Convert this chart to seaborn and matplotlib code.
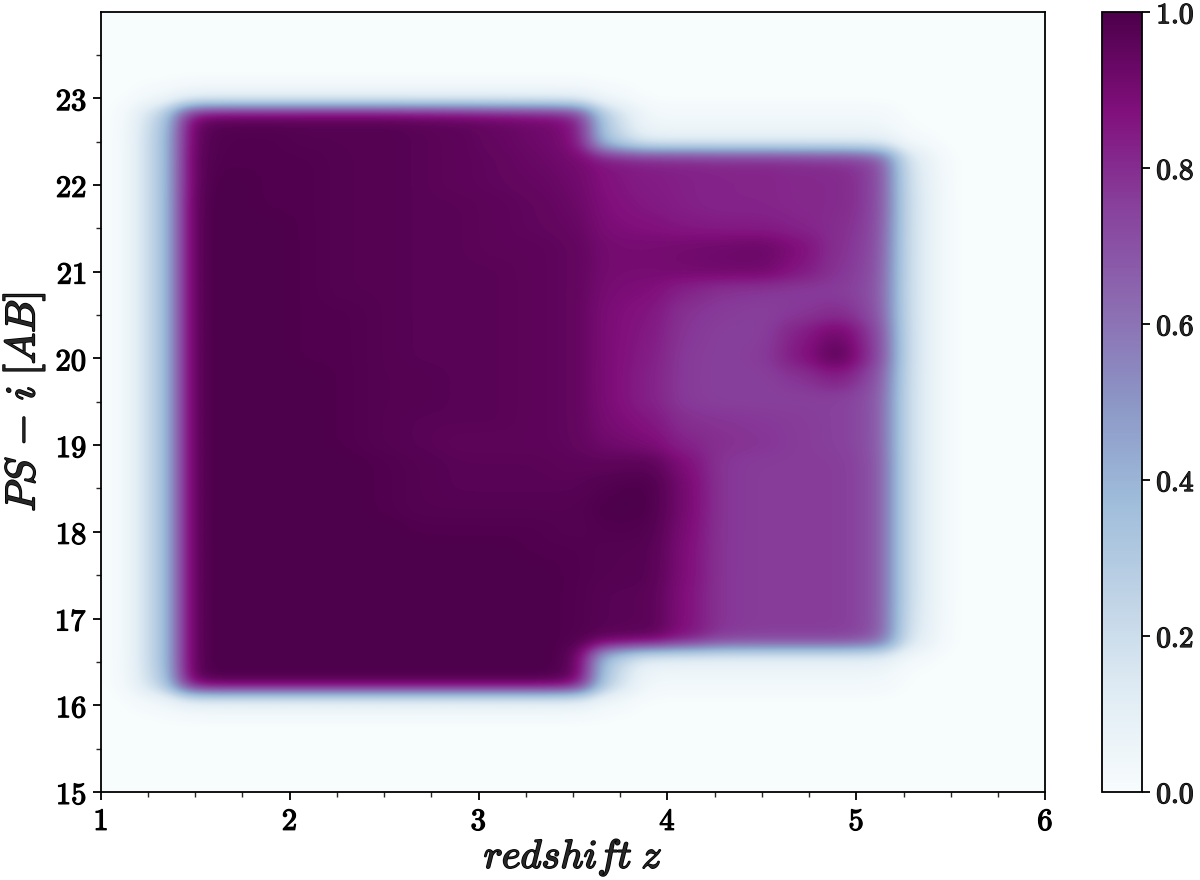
import numpy as np
import matplotlib
matplotlib.use("Agg")
import matplotlib.pyplot as plt
import matplotlib.patheffects as pe
from matplotlib.ticker import MultipleLocator, FuncFormatter
import seaborn as sns

# ---------------- data ----------------
# completeness (percent) on redshift bins of width 0.2 (z = 1.2 ... 5.4)
# and magnitude bins of width 0.25 (PS-i = 15.9 ... 23.15), faintest row first
z_lo, z_step = 1.2, 0.2
mag_lo, mag_step = 15.9, 0.25
completeness_pct = [
    # z: 1.3 | 1.5 1.7 1.9 2.1 2.3 2.5 2.7 2.9 3.1 3.3 3.5 | 3.7 3.9 4.1 4.3 4.5 4.7 4.9 5.1 | 5.3
    [2, 6, 6, 6, 6, 6, 6, 6, 6, 6, 6, 6, 2, 0, 0, 0, 0, 0, 0, 0, 0],                     # 23.03
    [22, 97, 98, 98, 98, 98, 98, 97, 96, 94, 92, 89, 22, 3, 3, 3, 3, 3, 3, 3, 0],        # 22.78
    [25, 98, 99, 99, 98, 98, 98, 97, 96, 94, 92, 90, 25, 8, 8, 8, 8, 8, 8, 8, 1],        # 22.53
    [25, 99, 99, 99, 99, 98, 98, 97, 96, 95, 93, 91, 86, 84, 83, 82, 82, 81, 80, 76, 12],  # 22.28
    [25, 99, 100, 99, 99, 98, 98, 97, 96, 95, 94, 92, 86, 84, 83, 82, 82, 81, 81, 76, 14],  # 22.03
    [25, 100, 100, 99, 99, 98, 98, 97, 97, 96, 95, 93, 87, 85, 83, 82, 82, 81, 81, 76, 15],  # 21.78
    [25, 100, 100, 100, 99, 98, 98, 97, 97, 96, 95, 94, 88, 87, 85, 84, 84, 82, 80, 75, 15],  # 21.53
    [25, 100, 100, 100, 99, 98, 98, 97, 97, 96, 96, 95, 90, 90, 91, 92, 93, 88, 79, 74, 15],  # 21.28
    [25, 100, 100, 100, 99, 98, 98, 97, 97, 97, 96, 95, 90, 90, 91, 92, 92, 86, 78, 73, 15],  # 21.03
    [25, 100, 100, 100, 99, 98, 98, 97, 97, 97, 96, 95, 89, 88, 82, 78, 77, 76, 76, 72, 15],  # 20.78
    [25, 100, 100, 100, 99, 99, 98, 97, 97, 97, 96, 95, 88, 86, 78, 76, 75, 77, 80, 73, 15],  # 20.53
    [25, 100, 100, 100, 99, 99, 98, 97, 97, 97, 96, 95, 88, 85, 77, 75, 75, 84, 93, 77, 15],  # 20.28
    [25, 100, 100, 100, 99, 99, 98, 97, 97, 97, 96, 95, 88, 84, 76, 75, 76, 86, 98, 78, 15],  # 20.03
    [25, 100, 100, 100, 100, 99, 98, 98, 97, 97, 96, 95, 88, 83, 76, 75, 75, 78, 84, 73, 15],  # 19.78
    [25, 100, 100, 100, 100, 99, 98, 98, 97, 97, 96, 95, 88, 83, 76, 75, 75, 75, 75, 71, 15],  # 19.53
    [25, 100, 100, 100, 100, 99, 98, 97, 97, 97, 96, 95, 89, 86, 79, 78, 77, 76, 75, 71, 15],  # 19.28
    [25, 100, 100, 100, 100, 99, 98, 97, 96, 96, 96, 95, 91, 89, 82, 79, 78, 76, 75, 71, 15],  # 19.03
    [25, 100, 100, 100, 100, 100, 99, 98, 97, 97, 97, 96, 96, 97, 88, 77, 76, 76, 76, 72, 15],  # 18.78
    [25, 100, 100, 100, 100, 100, 99, 98, 97, 97, 97, 97, 99, 100, 90, 77, 76, 76, 76, 72, 15],  # 18.53
    [25, 100, 100, 100, 100, 100, 99, 98, 98, 98, 98, 98, 100, 100, 90, 77, 76, 76, 76, 72, 15],  # 18.28
    [25, 100, 100, 100, 100, 100, 100, 99, 99, 99, 99, 98, 99, 99, 89, 77, 76, 76, 76, 72, 15],  # 18.03
    [25, 100, 100, 100, 100, 100, 100, 100, 100, 100, 99, 99, 98, 98, 88, 77, 76, 76, 76, 72, 15],  # 17.78
    [25, 100, 100, 100, 100, 100, 100, 100, 100, 100, 100, 99, 98, 98, 88, 77, 76, 76, 76, 72, 15],  # 17.53
    [25, 100, 100, 100, 100, 100, 100, 100, 100, 100, 100, 99, 97, 97, 87, 77, 76, 76, 76, 72, 15],  # 17.28
    [25, 100, 100, 100, 100, 100, 100, 100, 100, 100, 100, 99, 97, 97, 87, 77, 76, 76, 76, 72, 14],  # 17.03
    [25, 100, 100, 100, 100, 100, 100, 100, 100, 100, 100, 99, 97, 97, 87, 77, 76, 76, 76, 72, 12],  # 16.78
    [25, 100, 100, 100, 100, 100, 100, 100, 100, 100, 100, 99, 25, 8, 8, 8, 8, 8, 8, 8, 1],  # 16.53
    [22, 100, 100, 100, 100, 100, 100, 100, 100, 100, 100, 99, 22, 3, 3, 3, 3, 3, 3, 3, 0],  # 16.28
    [2, 6, 6, 6, 6, 6, 6, 6, 6, 6, 6, 6, 2, 0, 0, 0, 0, 0, 0, 0, 0],                     # 16.03
]
x_limits = [1, 6]
y_limits = [15, 23.99]
cbar_ticks = [0.0, 0.2, 0.4, 0.6, 0.8, 1.0]

# ---------------- style ----------------
sns.set_style("ticks")
plt.rcParams["mathtext.fontset"] = "cm"
plt.rcParams["font.family"] = ["DejaVu Serif"]
plt.rcParams["axes.linewidth"] = 1.3

cmap = sns.color_palette("BuPu", as_cmap=True)

# grid: zero completeness outside the listed bins
grid = np.array(completeness_pct[::-1], dtype=float) / 100.0
pad_left, pad_right, pad_bot, pad_top = 1, 3, 4, 4
grid = np.pad(grid, ((pad_bot, pad_top), (pad_left, pad_right)))
x0 = z_lo - pad_left * z_step
x1 = x0 + grid.shape[1] * z_step
y0 = mag_lo - pad_bot * mag_step
y1 = y0 + grid.shape[0] * mag_step

fig = plt.figure(figsize=(12, 8.8), dpi=100)
ax = fig.add_axes([0.084, 0.1, 0.787, 0.886])
cax = fig.add_axes([0.9185, 0.1, 0.0335, 0.886])

im = ax.imshow(grid, origin="lower", extent=[x0, x1, y0, y1], aspect="auto",
               cmap=cmap, vmin=0, vmax=1, interpolation="gaussian",
               interpolation_stage="data")
ax.set_xlim(*x_limits)
ax.set_ylim(*y_limits)

def bold_fmt(v, pos):
    return r"$\mathbf{%d}$" % int(round(v))

tick_stroke = [pe.withStroke(linewidth=0.9, foreground="black")]

ax.xaxis.set_major_locator(MultipleLocator(1))
ax.xaxis.set_minor_locator(MultipleLocator(0.25))
ax.yaxis.set_major_locator(MultipleLocator(1))
ax.yaxis.set_minor_locator(MultipleLocator(0.5))
ax.xaxis.set_major_formatter(FuncFormatter(bold_fmt))
ax.yaxis.set_major_formatter(FuncFormatter(bold_fmt))
ax.tick_params(axis="both", which="major", length=6, width=1.3, labelsize=22,
               direction="out", color="black", labelcolor="black", pad=4)
ax.tick_params(axis="both", which="minor", length=3.5, width=1.0, direction="out")
for s in ax.spines.values():
    s.set_color("black")
    s.set_linewidth(1.3)

stroke = [pe.withStroke(linewidth=1.2, foreground="black")]
ax.set_xlabel(r"$redshift\;z$", fontsize=29, labelpad=0, path_effects=stroke)
ax.set_ylabel(r"$PS\,-\,i\;[AB]$", fontsize=30, labelpad=6, path_effects=stroke)

cb = fig.colorbar(im, cax=cax, ticks=cbar_ticks)
cb.outline.set_linewidth(1.3)
cb.outline.set_edgecolor("black")
cb.ax.yaxis.set_major_formatter(FuncFormatter(lambda v, p: r"$\mathbf{%.1f}$" % v))
cb.ax.tick_params(length=6, width=1.3, labelsize=21, color="black", pad=4)
cb.ax.minorticks_off()

fig.canvas.draw()
for lab in ax.get_xticklabels() + ax.get_yticklabels() + cb.ax.get_yticklabels():
    lab.set_path_effects(tick_stroke)

fig.savefig("out.png", dpi=100, facecolor="white")
